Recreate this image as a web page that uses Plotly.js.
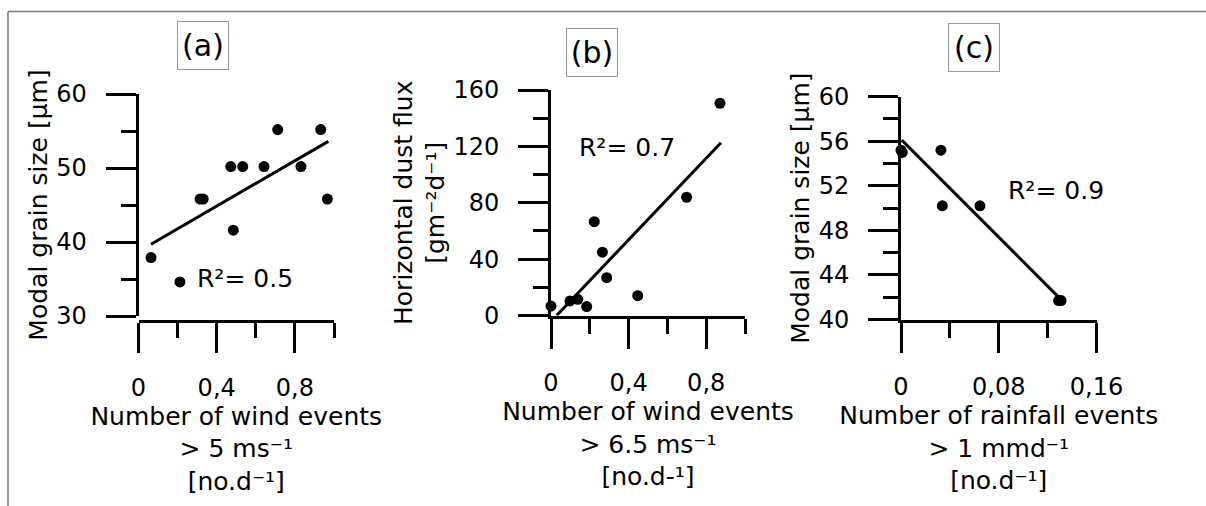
<!DOCTYPE html>
<html>
<head>
<meta charset="utf-8">
<script src="https://cdn.plot.ly/plotly-3.0.1.min.js"></script>
<style>html,body{margin:0;padding:0;background:#fff;}#chart{width:1206px;height:506px;}</style>
</head>
<body>
<div id="chart"></div>
<script>
// ---- data ----
// (a) modal grain size vs wind events > 5 m/s
const windA  = [0.064, 0.212, 0.315, 0.331, 0.472, 0.485, 0.533, 0.642, 0.712, 0.831, 0.932, 0.966];
const grainA = [37.9, 34.6, 45.8, 45.8, 50.2, 41.6, 50.2, 50.2, 55.2, 50.2, 55.2, 45.8];
const fitAx  = [0.064, 0.971];
const fitAy  = [39.7, 53.6];
// (b) horizontal dust flux vs wind events > 6.5 m/s
const windB  = [0, 0.098, 0.138, 0.184, 0.223, 0.265, 0.287, 0.447, 0.699, 0.871];
const fluxB  = [6.7, 10.3, 11.5, 6.3, 66.6, 44.9, 26.8, 14.1, 83.9, 150.6];
const fitBx  = [0.029, 0.876];
const fitBy  = [0, 122.6];
// (c) modal grain size vs rainfall events > 1 mm/d
const rainC  = [0, 0.001, 0.0327, 0.0338, 0.0646, 0.129, 0.131];
const grainC = [55.2, 55.0, 55.2, 50.2, 50.2, 41.7, 41.7];
const fitCx  = [0.0006, 0.130];
const fitCy  = [56.1, 41.9];
// labels
const panelLabels = ['(a)', '(b)', '(c)'];
const r2Labels = ['R²= 0.5', 'R²= 0.7', 'R²= 0.9'];
const xTitles = [
  'Number of wind events<br>&gt; 5 ms⁻¹<br>[no.d⁻¹]',
  'Number of wind events<br>&gt; 6.5 ms⁻¹<br>[no.d-¹]',
  'Number of rainfall events<br>&gt; 1 mmd⁻¹<br>[no.d⁻¹]'
];
const yTitles = [
  'Modal grain size [µm]',
  'Horizontal dust flux<br>[gm⁻²d⁻¹]',
  'Modal grain size [µm]'
];

// ---- layout helpers ----
const W = 1206, H = 506;
const FONT = 'DejaVu Sans, sans-serif';
const px = p => p / W;
const py = p => (H - p) / H;

function minorTicks(dt) {
  return {ticks: 'outside', ticklen: 15, tickwidth: 3, tickcolor: '#000', dtick: dt, showgrid: false};
}
function axisBase(extra) {
  return Object.assign({
    showline: true, linewidth: 3, linecolor: '#000',
    ticks: 'outside', ticklen: 30, tickwidth: 3, tickcolor: '#000',
    showgrid: false, zeroline: false,
    tickfont: {family: FONT, size: 24, color: '#000'},
    fixedrange: true
  }, extra);
}

function markers(x, y, xa, ya) {
  return {x: x, y: y, xaxis: xa, yaxis: ya, type: 'scatter', mode: 'markers',
          marker: {color: '#000', size: 11}, cliponaxis: false, showlegend: false, hoverinfo: 'skip'};
}
function fitLine(x, y, xa, ya) {
  return {x: x, y: y, xaxis: xa, yaxis: ya, type: 'scatter', mode: 'lines',
          line: {color: '#000', width: 3}, showlegend: false, hoverinfo: 'skip'};
}

const data = [
  fitLine(fitAx, fitAy, 'x', 'y'),  markers(windA, grainA, 'x', 'y'),
  fitLine(fitBx, fitBy, 'x2', 'y2'), markers(windB, fluxB, 'x2', 'y2'),
  fitLine(fitCx, fitCy, 'x3', 'y3'), markers(rainC, grainC, 'x3', 'y3')
];

const titleFont = {family: FONT, size: 25, color: '#000'};
const X_LAB_STANDOFF = 14, Y_LAB_STANDOFF = 14, X_TITLE_STANDOFF = 5, Y_TITLE_STANDOFF = 2;

function panelBox(i, xc, yc) {
  return {text: panelLabels[i], xref: 'paper', yref: 'paper', x: px(xc), y: py(yc),
          xanchor: 'center', yanchor: 'middle', showarrow: false,
          width: 44, height: 41, borderpad: 3,
          font: {family: FONT, size: 30, color: '#000'},
          bordercolor: '#9a9a9a', borderwidth: 1, bgcolor: '#fff'};
}
function r2Note(i, xl, yc) {
  return {text: r2Labels[i], xref: 'paper', yref: 'paper', x: px(xl), y: py(yc),
          xanchor: 'left', yanchor: 'middle', showarrow: false,
          font: {family: FONT, size: 25, color: '#000'}};
}

const layout = {
  width: W, height: H,
  margin: {l: 0, r: 0, t: 0, b: 0},
  paper_bgcolor: '#fff', plot_bgcolor: 'rgba(0,0,0,0)',
  separators: ', ',
  showlegend: false,
  font: {family: FONT, color: '#000'},
  xaxis: axisBase({domain: [px(138.5), px(334)], range: [0, 1], dtick: 0.4, tick0: 0,
    minor: minorTicks(0.2), anchor: 'free', position: py(321), ticklabelstandoff: X_LAB_STANDOFF,
    title: {text: xTitles[0], font: titleFont, standoff: X_TITLE_STANDOFF}}),
  yaxis: axisBase({domain: [py(316), py(94)], range: [30, 60], dtick: 10, tick0: 0, anchor: 'x',
    minor: minorTicks(5), ticklabelstandoff: Y_LAB_STANDOFF,
    title: {text: yTitles[0], font: titleFont, standoff: Y_TITLE_STANDOFF}}),
  xaxis2: axisBase({domain: [px(551), px(745)], range: [0, 1], dtick: 0.4, tick0: 0, anchor: 'y2',
    minor: minorTicks(0.2), ticklabelstandoff: X_LAB_STANDOFF,
    title: {text: xTitles[1], font: titleFont, standoff: X_TITLE_STANDOFF}}),
  yaxis2: axisBase({domain: [py(315.5), py(90)], range: [0, 160], dtick: 40, tick0: 0, anchor: 'x2',
    minor: minorTicks(20), ticklabelstandoff: Y_LAB_STANDOFF,
    title: {text: yTitles[1], font: titleFont, standoff: Y_TITLE_STANDOFF}}),
  xaxis3: axisBase({domain: [px(901), px(1096.5)], range: [0, 0.16], dtick: 0.08, tick0: 0, anchor: 'y3',
    minor: minorTicks(0.04), ticklabelstandoff: X_LAB_STANDOFF,
    title: {text: xTitles[2], font: titleFont, standoff: X_TITLE_STANDOFF}}),
  yaxis3: axisBase({domain: [py(319.5), py(96.7)], range: [40, 60], dtick: 4, tick0: 0, anchor: 'x3',
    minor: minorTicks(2), ticklabelstandoff: Y_LAB_STANDOFF,
    title: {text: yTitles[2], font: titleFont, standoff: Y_TITLE_STANDOFF}}),
  shapes: [
    {type: 'line', xref: 'paper', yref: 'paper', x0: px(8), y0: 0, x1: px(8), y1: py(11.5),
     line: {color: '#7a7a7a', width: 1.5}},
    {type: 'line', xref: 'paper', yref: 'paper', x0: px(8), y0: py(11.5), x1: 1, y1: py(11.5),
     line: {color: '#7a7a7a', width: 1.5}}
  ],
  annotations: [
    panelBox(0, 203, 45.5), panelBox(1, 592, 52.5), panelBox(2, 973.5, 47.5),
    r2Note(0, 195, 279), r2Note(1, 576.5, 147), r2Note(2, 1006, 190)
  ]
};

Plotly.newPlot('chart', data, layout, {displayModeBar: false, staticPlot: true});
</script>
</body>
</html>
